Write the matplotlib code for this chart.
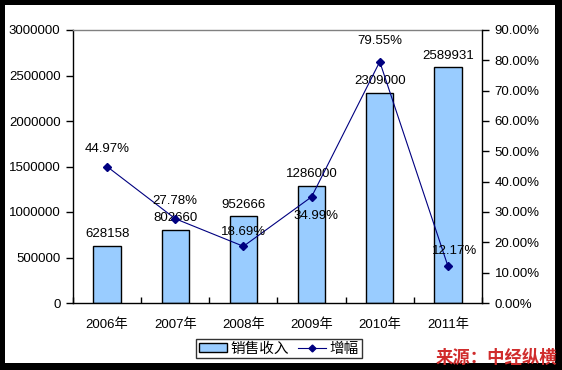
import matplotlib
matplotlib.use("Agg")
import matplotlib.pyplot as plt
from matplotlib.patches import Rectangle, Patch
from matplotlib.lines import Line2D
import numpy as np

plt.rcParams['font.family'] = ['Liberation Sans', 'Noto Sans CJK SC', 'DejaVu Sans']

categories = ['2006年', '2007年', '2008年', '2009年', '2010年', '2011年']
sales = [628158, 802660, 952666, 1286000, 2309000, 2589931]
growth = [44.97, 27.78, 18.69, 34.99, 79.55, 12.17]
left_ticks = [0, 500000, 1000000, 1500000, 2000000, 2500000, 3000000]
right_ticks = [0, 10, 20, 30, 40, 50, 60, 70, 80, 90]

W, H = 562, 370
fig = plt.figure(figsize=(W / 100, H / 100), dpi=100)
fig.patch.set_facecolor('black')
bg = Rectangle((5 / W, 1 - 363 / H), 550 / W, 358 / H,
               transform=fig.transFigure, facecolor='white',
               edgecolor='none', zorder=-10)
fig.patches.append(bg)

ax = fig.add_axes([73 / W, 1 - 303 / H, 409 / W, 273 / H])
ax.set_facecolor('white')
x = np.arange(len(categories))
ax.bar(x, sales, width=0.4, color='#99CCFF', edgecolor='black', linewidth=1.0, zorder=2)
ax.set_xlim(-0.5, len(categories) - 0.5)
ax.set_ylim(0, 3000000)
ax.set_yticks(left_ticks)
ax.set_yticklabels([str(v) for v in left_ticks])
ax.tick_params(axis='y', direction='out', length=5, width=1, labelsize=9.5, pad=4)
ax.set_xticks(x)
ax.set_xticklabels(categories)
ax.set_xticks(np.arange(len(categories) + 1) - 0.5, minor=True)
ax.tick_params(axis='x', which='major', length=0, labelsize=9.5, pad=11)
ax.tick_params(axis='x', which='minor', direction='in', length=4, width=1)
for s in ['left', 'bottom']:
    ax.spines[s].set_color('black')
    ax.spines[s].set_linewidth(1.0)
ax.spines['top'].set_color('#808080')
ax.spines['top'].set_linewidth(1.0)
ax.spines['right'].set_visible(False)

for xi, v in zip(x, sales):
    ax.annotate(str(v), (xi, v), xytext=(0, 4), textcoords='offset points',
                ha='center', va='bottom', fontsize=9.5, zorder=5)

ax2 = ax.twinx()
ax2.plot(x, growth, color='#000080', linewidth=0.8, marker='D', markersize=4,
         markerfacecolor='#000080', markeredgecolor='#000080', zorder=4)
ax2.set_ylim(0, 90)
ax2.set_yticks(right_ticks)
ax2.set_yticklabels(['%.2f%%' % v for v in right_ticks])
ax2.tick_params(axis='y', direction='out', length=5, width=1, labelsize=9.5, pad=4)
ax2.spines['right'].set_color('black')
ax2.spines['right'].set_linewidth(1.0)
for s in ['top', 'left', 'bottom']:
    ax2.spines[s].set_visible(False)

offsets = [(0, 13), (0, 13), (0, 10), (3, -14), (0, 15), (5, 11)]
for xi, g, off in zip(x, growth, offsets):
    ax2.annotate('%.2f%%' % g, (xi, g), xytext=off, textcoords='offset points',
                 ha='center', va='center', fontsize=9.5, zorder=6)

handles = [Patch(facecolor='#99CCFF', edgecolor='black', linewidth=1.0),
           Line2D([0], [0], color='#000080', linewidth=0.8, marker='D', markersize=3.5)]
leg = fig.legend(handles, ['销售收入', '增幅'], loc='center', bbox_to_anchor=(279 / W, 1 - 348.5 / H),
                 ncol=2, frameon=True, fancybox=False, edgecolor='black', fontsize=10.5,
                 handlelength=1.9, handleheight=0.6, borderpad=0.2, columnspacing=0.6,
                 handletextpad=0.25, borderaxespad=0)
leg.get_frame().set_linewidth(1.0)

fig.text(557 / W, 1 - 357.5 / H, '来源：中经纵横', color='#D02C2C', fontsize=12.5,
         fontweight='bold', style='italic', ha='right', va='center',
         family=['Noto Sans CJK SC'])

fig.savefig('out.png', dpi=100, facecolor=fig.get_facecolor())
